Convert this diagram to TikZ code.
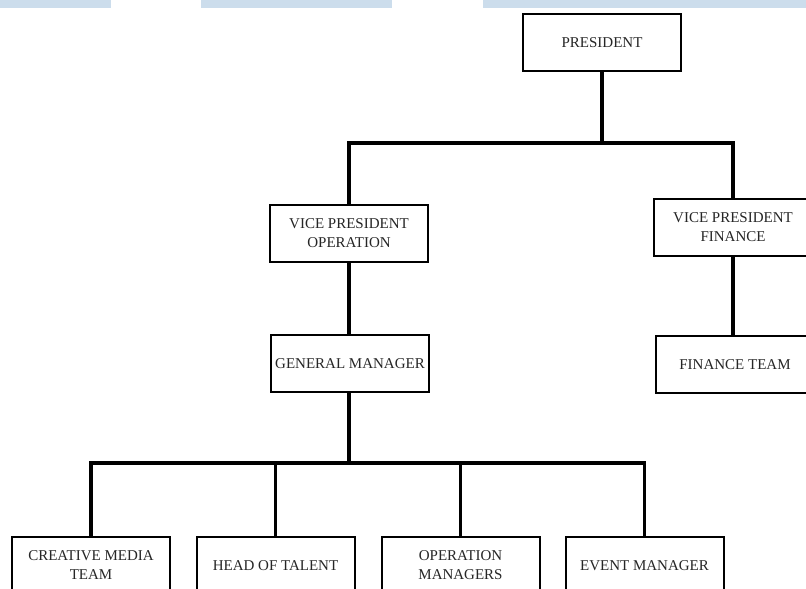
\documentclass[tikz,border=0pt]{standalone}
\usepackage{fontspec}
\setmainfont{Liberation Serif}
\usepackage{tikz}
\definecolor{barblue}{RGB}{204,221,236}

\begin{document}
\begin{tikzpicture}[x=1pt, y=-1pt, outer sep = 0pt]

\tikzstyle{post}=[draw, rectangle, line width=2pt, minimum height=57pt, minimum width=158pt, align=center, text=black!85, font=\fontsize{15}{19}\selectfont]
\tikzstyle{link}=[line width=3.5pt]

\clip (0,0) rectangle (806,589);
\fill[white] (0,0) rectangle (806,589);
\fill[barblue] (0,0) rectangle (111,8); \fill[barblue] (201,0) rectangle (392,8); \fill[barblue] (483,0) rectangle (806,8);

\node[post] (pres) at (602,42.5) {PRESIDENT};
\node[post] (vpo) at (349,233.5) {VICE PRESIDENT\\OPERATION}; \node[post] (vpf) at (733,227) {VICE PRESIDENT\\FINANCE};
\node[post] (gm) at (350,363.5) {GENERAL MANAGER}; \node[post] (fin) at (735,364.5) {FINANCE TEAM};
\node[post] (cmt) at (91,565.5) {CREATIVE MEDIA\\TEAM}; \node[post] (hot) at (275.5,565.5) {HEAD OF TALENT};
\node[post] (opm) at (460.5,565.5) {OPERATION\\MANAGERS}; \node[post] (evm) at (644.5,565.5) {EVENT MANAGER};

\coordinate (top) at (602,143); \coordinate (low) at (349,463);

\draw[link] (pres.south) -- (top);
\draw[link] (vpo.north) |- (top) -| (vpf.north);
\draw[link] (vpo.south) -- (vpo.south |- gm.north); \draw[link] (vpf.south) -- (vpf.south |- fin.north);
\draw[link] (vpo.south |- gm.south) -- (low);
\draw[link] (cmt.north) |- (low) -| (evm.north);
\draw[link] (hot.north) -- (hot.north |- low); \draw[link] (opm.north) -- (opm.north |- low);

\end{tikzpicture}
\end{document}
